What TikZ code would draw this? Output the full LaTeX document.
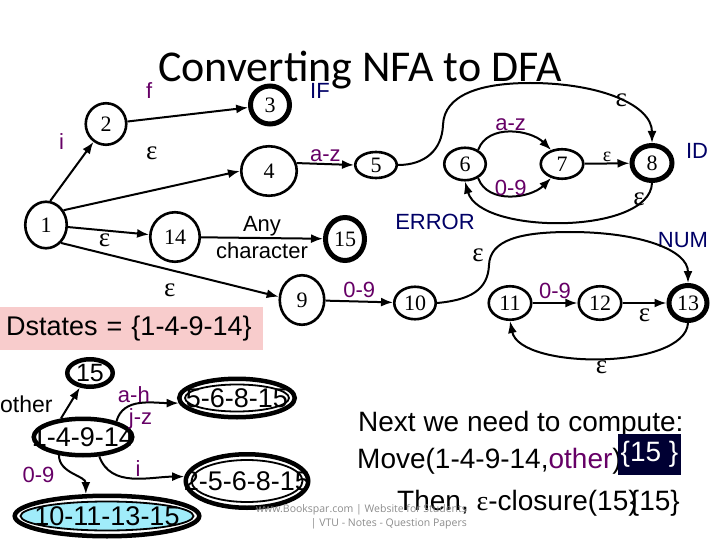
\documentclass[tikz,border=0pt]{standalone}
\usepackage{fontspec}
\setmainfont{Liberation Serif}
\setsansfont{Liberation Sans}
\newfontfamily\titlefont{Carlito}
\newfontfamily\markfont{Open Sans}
\usetikzlibrary{arrows.meta,shapes.geometric}

\newcommand\fsz[1]{\fontsize{#1}{#1}\selectfont}
\newcommand\eps{{\rmfamily ε}}

\definecolor{lblpurple}{RGB}{102,0,102}
\definecolor{toknavy}{RGB}{0,0,102}
\definecolor{dspink}{RGB}{248,204,204}
\definecolor{dscyan}{RGB}{160,236,250}
\definecolor{boxnavy}{RGB}{0,0,51}

\begin{document}
\begin{tikzpicture}[x=1pt, y=-1pt,
    state/.style={ellipse, draw, line width=2.6pt, inner sep=0pt, font=\fsz{22}},
    accept/.style={state, line width=5pt},
    trans/.style={-{Latex[length=12pt,width=9pt]}, line width=2pt},
    lbl/.style={font=\sffamily\fsz{22}, text=lblpurple, inner sep=1pt},
    tok/.style={font=\sffamily\fsz{22}, text=toknavy},
    eps/.style={font=\fsz{27}, inner sep=1pt},
    dstate/.style={ellipse, draw, line width=4.5pt, inner sep=0pt},
    dtext/.style={font=\sffamily\fsz{27}, inner sep=0pt},
    bigtext/.style={font=\sffamily\fsz{28}, inner sep=0pt}
]
\useasboundingbox (0,0) rectangle (720,540);

% title
\node[font=\titlefont\fsz{44}, anchor=base] (title) at (360,82) {Converting NFA to DFA};

% NFA states
\node[state, minimum width=41.5pt, minimum height=46.5pt] (n1) at (46,225) {1};
\node[state, minimum width=40.5pt, minimum height=41.5pt] (n2) at (106,124) {2};
\node[accept, minimum width=39pt, minimum height=38pt] (n3) at (270,105) {3};
\node[state, minimum width=55.5pt, minimum height=49.5pt] (n4) at (269,171) {4};
\node[state, minimum width=41.5pt, minimum height=26pt] (n5) at (376,165) {5};
\node[state, minimum width=41.5pt, minimum height=32.5pt] (n6) at (465,164) {6};
\node[state, minimum width=42.5pt, minimum height=29.5pt] (n7) at (562,164) {7};
\node[accept, minimum width=40pt, minimum height=35pt] (n8) at (652,163) {8};
\node[state, minimum width=44.5pt, minimum height=49.5pt] (n9) at (302,300) {9};
\node[state, minimum width=41.5pt, minimum height=32.5pt] (n10) at (415,303) {10};
\node[state, minimum width=42.5pt, minimum height=33.5pt] (n11) at (510,303) {11};
\node[state, minimum width=42.5pt, minimum height=33.5pt] (n12) at (600,303) {12};
\node[accept, minimum width=38pt, minimum height=35pt] (n13) at (688,303) {13};
\node[state, minimum width=49.5pt, minimum height=49.5pt] (n14) at (175,237) {14};
\node[accept, minimum width=39pt, minimum height=43pt] (n15) at (345,239) {15};

% token names
\node[tok] (tIF) at (320,91) {IF};
\node[tok] (tID) at (697,151) {ID};
\node[tok] (tERR) at (435,222) {ERROR};
\node[tok] (tNUM) at (683,240) {NUM};

% NFA transitions
\draw[trans] (n1.80) -- node[lbl, pos=1, xshift=-32pt]{i} (n2.235);
\draw[trans] (n2) -- node[lbl, pos=.18, yshift=28pt]{f} (n3);
\draw[trans] (n1.40) -- node[eps, pos=.5, yshift=37pt]{ε} (n4.west);
\draw[trans] (n1) -- node[eps, pos=.45, below=1pt]{ε} (n14);
\draw[trans] (n1.-50) -- node[eps, pos=.5, below=12pt]{ε} (n9.172);
\draw[trans] (n4.16) -- node[lbl, above]{a-z} (n5.west);
\draw[trans] (n14) -- node[font=\sffamily\fsz{22}, above, inner sep=1pt]{Any}
                      node[font=\sffamily\fsz{22}, below=3pt, inner sep=1pt]{character} (n15);
\draw[trans] (n9) -- node[lbl, above=2pt]{0-9} (n10);
\draw[trans] (n6.47) to[out=70, in=135] node[lbl, pos=.5, above]{a-z} (n7.128);
\draw[trans] (n6.-47) to[out=-70, in=-135] node[lbl, pos=.5, yshift=8pt]{0-9} (n7.-128);
\draw[trans] (n7) -- node[font=\fsz{20}, above, inner sep=1pt]{ε} (n8);
\draw[trans] (n11) -- node[lbl, above=2pt]{0-9} (n12);
\draw[trans] (n12) -- node[eps, below=4pt]{ε} (n13);
\draw[trans] (n5.east) .. controls (425,165) and (442,150) .. (443,125)
    .. controls (444,95) and (480,83) .. (530,83)
    .. controls (600,83) and (652,105) .. (n8.north) node[eps, pos=.5, xshift=4pt, yshift=-2pt]{ε};
\draw[trans] (n8.south) .. controls (650,235) and (480,235) .. (n6.south)
    node[eps, pos=.12, left=-2pt]{ε};
\draw[trans] (n10.east) .. controls (470,300) and (488,290) .. (489,265)
    node[eps, xshift=-11pt, yshift=10pt]{ε}
    .. controls (490,240) and (520,232) .. (570,232)
    .. controls (640,232) and (688,250) .. (n13.north);
\draw[trans] (n13.south) .. controls (685,370) and (520,370) .. (n11.south)
    node[eps, pos=.5, below=1pt]{ε};

% Dstates
\node[fill=dspink, anchor=north west, inner xsep=6pt, inner ysep=0pt,
      text width=251pt, minimum height=43pt, align=left,
      font=\sffamily\fsz{27}] (dstates) at (0,307) {Dstates = \{1-4-9-14\}};

% DFA states
\node[dstate, minimum width=45.5pt, minimum height=27.5pt,
      label={[dtext, font=\sffamily\fsz{25}]center:15}] (d15) at (90,373) {};
\node[dstate, minimum width=98.5pt, minimum height=36.5pt,
      label={[dtext]center:1-4-9-14}] (d14914) at (83,437) {};
\draw[line width=1.8pt] (237,398) ellipse [x radius=52pt, y radius=13.5pt];
\node[dstate, minimum width=115.5pt, minimum height=38.5pt,
      label={[dtext]center:5-6-8-15}] (d56815) at (237,398) {};
\draw[line width=1.8pt] (247,481) ellipse [x radius=55.5pt, y radius=21pt];
\node[dstate, minimum width=122.5pt, minimum height=53.5pt,
      label={[dtext]center:2-5-6-8-15}] (d256815) at (247,481) {};
\draw[line width=1.8pt, fill=dscyan] (107,516) ellipse [x radius=86.5pt, y radius=14.5pt];
\node[dstate, minimum width=184.5pt, minimum height=40.5pt,
      label={[dtext]center:10-11-13-15}] (d10111315) at (107,516) {};
\node[font=\sffamily\fsz{23}, anchor=base west, inner sep=0pt] (other) at (0,412) {other};

% DFA transitions
\draw[trans] (d14914.140) -- (d15.235);
\draw[trans] (d14914.25) to[out=75, in=180]
    node[lbl, pos=.4, above]{a-h} node[lbl, pos=.5, below=3pt]{j-z} (d56815.185);
\draw[trans] (d14914.-50) to[out=-70, in=180] node[lbl, pos=.55, above]{i} (d256815.176);
\draw[trans] (d14914.217) to[out=-90, in=90] node[lbl, pos=.5, left=16pt]{0-9} (d10111315.134);

% next step
\node[bigtext, anchor=base west] (next) at (358,431) {Next we need to compute:};
\node[bigtext, anchor=base west] (move) at (357,468) {Move(1-4-9-14,\textcolor{lblpurple}{other})};
\node[fill=boxnavy, text=white, font=\sffamily\fsz{28}, minimum width=63pt,
      minimum height=41pt, inner sep=0pt] (res1) at (649.5,454.5) {\{15 \}};
\node[bigtext, anchor=base west] (then) at (397,510) {Then, \eps-closure(15)};
\node[bigtext, anchor=base east] (res2) at (680,510) {\{15\}};

% watermark
\node[font=\markfont\fsz{10.5}, text=black!45, anchor=base east, inner sep=0pt] (wm1) at (467,512) {www.Bookspar.com | Website for Students};
\node[font=\markfont\fsz{10.5}, text=black!45, anchor=base east, inner sep=0pt] (wm2) at (467,526) {| VTU - Notes - Question Papers};
\end{tikzpicture}
\end{document}
